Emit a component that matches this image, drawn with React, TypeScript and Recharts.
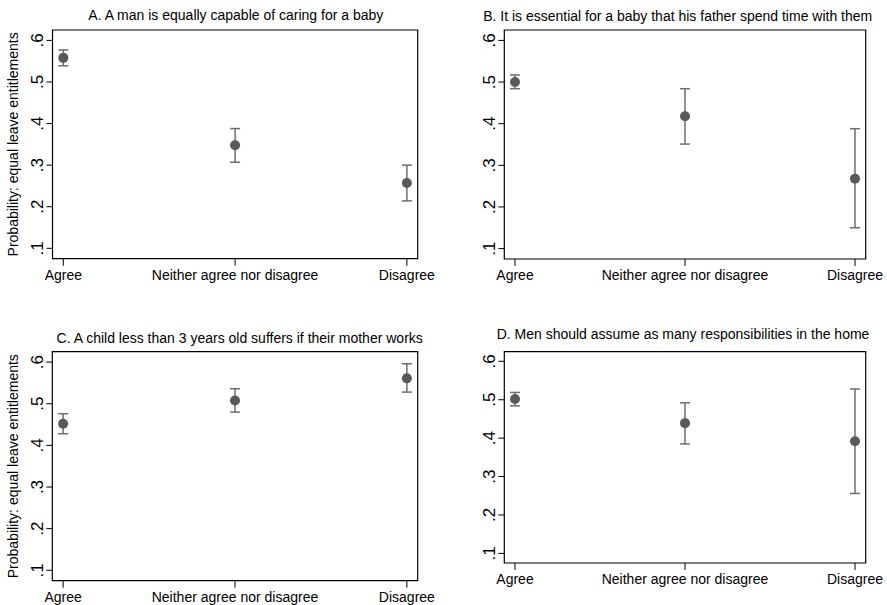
import React from 'react';
import { ScatterChart, Scatter, XAxis, YAxis, ErrorBar, ReferenceArea } from 'recharts';

// category labels on the x axis (positions 1..3)
const categories = ['Agree', 'Neither agree nor disagree', 'Disagree'];
const yTicks = [0.1, 0.2, 0.3, 0.4, 0.5, 0.6];
const yTitle = 'Probability: equal leave entitlements';

const titleA = 'A. A man is equally capable of caring for a baby';
const titleB = 'B. It is essential for a baby that his father spend time with them';
const titleC = 'C. A child less than 3 years old suffers if their mother works';
const titleD = 'D. Men should assume as many responsibilities in the home';

// point estimates with lower / upper CI bounds
const estA = [0.558, 0.348, 0.257];
const loA = [0.539, 0.307, 0.214];
const hiA = [0.577, 0.388, 0.3];

const estB = [0.5, 0.418, 0.268];
const loB = [0.484, 0.351, 0.15];
const hiB = [0.517, 0.484, 0.388];

const estC = [0.452, 0.508, 0.561];
const loC = [0.428, 0.48, 0.528];
const hiC = [0.476, 0.536, 0.596];

const estD = [0.502, 0.439, 0.392];
const loD = [0.484, 0.385, 0.256];
const hiD = [0.519, 0.492, 0.528];

const X_DOMAIN: [number, number] = [0.937, 3.063];
const Y_DOMAIN: [number, number] = [0.075, 0.625];

const DOT = '#595959';
const BAR = '#6e6e6e';

function toRows(est: number[], lo: number[], hi: number[]) {
  return est.map((v, i) => ({ x: i + 1, y: v, err: [v - lo[i], hi[i] - v] }));
}

const fmtY = (v: number) => v.toFixed(1).replace(/^0/, '');

const YTick = (props: any) => {
  const { x, y, payload } = props;
  return (
    <text
      x={x}
      y={y}
      transform={`rotate(-90 ${x} ${y})`}
      textAnchor="middle"
      fontSize={17}
      fill="#000"
    >
      {fmtY(payload.value)}
    </text>
  );
};

const Dot = (props: any) => <circle cx={props.cx} cy={props.cy} r={5} fill={DOT} />;

interface PanelProps {
  left: number;
  top: number;
  width: number;
  height: number;
  yAxisWidth: number;
  xAxisHeight: number;
  marginTop: number;
  marginRight: number;
  rows: { x: number; y: number; err: number[] }[];
  showYTitle?: boolean;
}

function Panel({ left, top, width, height, yAxisWidth, xAxisHeight, marginTop, marginRight, rows, showYTitle }: PanelProps) {
  return (
    <div style={{ position: 'absolute', left, top }}>
      <ScatterChart
        width={width}
        height={height}
        margin={{ top: marginTop, right: marginRight, bottom: 0, left: 0 }}
      >
        <XAxis
          type="number"
          dataKey="x"
          domain={X_DOMAIN}
          ticks={[1, 2, 3]}
          allowDataOverflow
          height={xAxisHeight}
          axisLine={false}
          tickLine={{ stroke: '#000' }}
          tickSize={7}
          tickMargin={4}
          tick={{ fontSize: 14, fill: '#000' }}
          tickFormatter={(v: number) => categories[v - 1]}
          interval={0}
        />
        <YAxis
          type="number"
          dataKey="y"
          domain={Y_DOMAIN}
          ticks={yTicks}
          allowDataOverflow
          width={yAxisWidth}
          axisLine={false}
          tickLine={{ stroke: '#000' }}
          tickSize={6}
          tickMargin={3}
          tick={<YTick />}
          interval={0}
          label={
            showYTitle
              ? (p: any) => {
                  const vb = p.viewBox || { x: 0, y: 0, height: 0 };
                  const cx = vb.x + 18.5;
                  const cy = vb.y + vb.height / 2;
                  return (
                    <text
                      x={cx}
                      y={cy}
                      transform={`rotate(-90 ${cx} ${cy})`}
                      textAnchor="middle"
                      fontSize={14}
                      fill="#000"
                    >
                      {yTitle}
                    </text>
                  );
                }
              : undefined
          }
        />
        <ReferenceArea
          x1={X_DOMAIN[0]}
          x2={X_DOMAIN[1]}
          y1={Y_DOMAIN[0]}
          y2={Y_DOMAIN[1]}
          fill="none"
          stroke="#000"
          strokeWidth={1.2}
          ifOverflow="visible"
        />
        <Scatter data={rows} shape={<Dot />} isAnimationActive={false}>
          <ErrorBar dataKey="err" direction="y" width={5} stroke={BAR} strokeWidth={1.5} />
        </Scatter>
      </ScatterChart>
    </div>
  );
}

const titleStyle: React.CSSProperties = {
  position: 'absolute',
  transform: 'translate(-50%, -50%)',
  whiteSpace: 'nowrap',
  fontSize: 14,
  lineHeight: 1,
  color: '#000',
};

export default function App() {
  return (
    <div
      style={{
        position: 'absolute',
        left: 0,
        top: 0,
        width: 887,
        height: 605,
        background: '#fff',
        fontFamily: '"Liberation Sans", Arial, Helvetica, sans-serif',
      }}
    >
      <Panel left={0} top={0} width={445} height={300} yAxisWidth={52.5} xAxisHeight={41.3}
        marginTop={30} marginRight={27.3} rows={toRows(estA, loA, hiA)} showYTitle />
      <Panel left={445} top={0} width={442} height={300} yAxisWidth={59.3} xAxisHeight={41}
        marginTop={30} marginRight={21.3} rows={toRows(estB, loB, hiB)} />
      <Panel left={0} top={300} width={445} height={305} yAxisWidth={52.3} xAxisHeight={24.3}
        marginTop={51.7} marginRight={27.3} rows={toRows(estC, loC, hiC)} showYTitle />
      <Panel left={445} top={300} width={442} height={305} yAxisWidth={59.3} xAxisHeight={42}
        marginTop={51.7} marginRight={21.3} rows={toRows(estD, loD, hiD)} />

      <div style={{ ...titleStyle, left: 235.8, top: 15 }}>{titleA}</div>
      <div style={{ ...titleStyle, left: 677.7, top: 15.5 }}>{titleB}</div>
      <div style={{ ...titleStyle, left: 239.7, top: 338.3 }}>{titleC}</div>
      <div style={{ ...titleStyle, left: 683, top: 334.3 }}>{titleD}</div>
    </div>
  );
}
